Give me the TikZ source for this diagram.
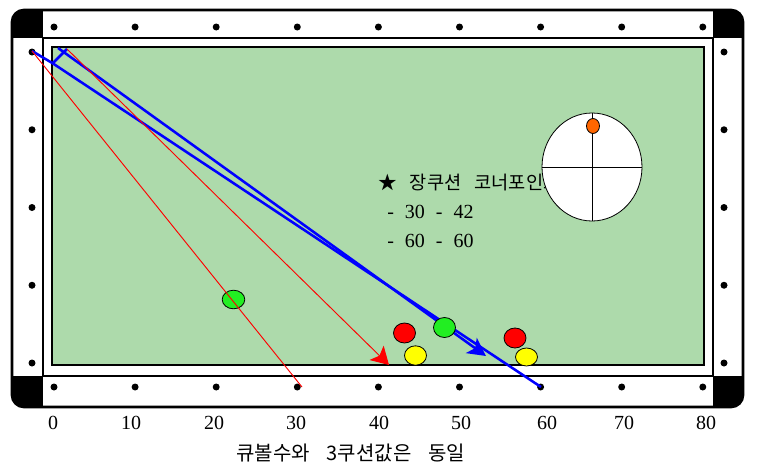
\documentclass[tikz,border=0pt]{standalone}
\usepackage{fontspec}
\setmainfont{Liberation Serif}
\newfontfamily\krfont{Noto Sans CJK KR}
\usetikzlibrary{arrows.meta,shapes.geometric}

\definecolor{felt}{RGB}{173,218,171}
\definecolor{redball}{RGB}{255,0,0}
\definecolor{yellowball}{RGB}{255,255,0}
\definecolor{greenball}{RGB}{34,238,34}
\definecolor{tipdot}{RGB}{255,102,0}

\newcommand{\gap}{\hspace{0.7em}}
\newcommand{\smallgap}{\hspace{0.55em}}
\newcommand{\widegap}{\hspace{0.85em}}

\tikzset{
  railline/.style={line width=1.5pt},
  raildot/.style={fill=black},
  ball/.style={draw=black,line width=0.6pt},
  shotline/.style={blue,line width=1.9pt,line join=round},
  guideline/.style={red,line width=0.7pt},
  krlabel/.style={font=\krfont\fontsize{14pt}{17pt}\selectfont,inner sep=0pt},
  numlabel/.style={font=\fontsize{15pt}{18pt}\selectfont,inner sep=0pt},
}

\begin{document}
\begin{tikzpicture}[x=0.75pt,y=-0.75pt]
\useasboundingbox (0,0) rectangle (761,471);

% table
\draw[line width=2pt,fill=white,rounded corners=9pt] (12,10) rectangle (743,407);
\begin{scope}
\clip[rounded corners=9pt] (12,10) rectangle (743,407);
\fill (12,10) rectangle (43,38);
\fill (713,10) rectangle (743,38);
\fill (12,376) rectangle (43,407);
\fill (713,376) rectangle (743,407);
\end{scope}
\draw[railline] (43,38) rectangle (713,376);
\draw[line width=1.9pt,fill=felt] (52,47) rectangle (704,365);

\foreach \i in {0,...,8} {
  \fill[raildot] ({54+81.1*\i},27) circle (3.5);
  \fill[raildot] ({54+81.1*\i},387) circle (3.5);
}
\foreach \j in {0,...,4} {
  \fill[raildot] (32,{52+77.75*\j}) circle (3.5);
  \fill[raildot] (724,{52+77.75*\j}) circle (3.5);
}

\foreach \v/\px in {0/53,10/131,20/214,30/296,40/379,50/461,60/547,70/624,80/706}
  \node[numlabel] (axis\v) at (\px,423) {\v};

% note
\node[krlabel,anchor=west] (title) at (378,183) {★\gap 장쿠션\gap 코너포인트};
\node[numlabel,anchor=west] (pointA) at (387,212) {-\smallgap 30\smallgap -\smallgap 42};
\node[numlabel,anchor=west] (pointB) at (387,241) {-\smallgap 60\smallgap -\smallgap 60};
\node[krlabel,font=\krfont\fontsize{15pt}{18pt}\selectfont,anchor=west] (remark) at (236,453) {큐볼수와\widegap 3쿠션값은\widegap 동일};

% cue tip
\node[draw,fill=white,ellipse,line width=0.6pt,inner sep=0pt,minimum width=75pt,minimum height=81pt] (spin) at (592,167) {};
\draw[line width=0.6pt] (spin.west) -- (spin.east);
\draw[line width=0.6pt] (spin.north) -- (spin.south);
\draw[ball,fill=tipdot] (593,126) ellipse (6.5 and 7.5);

% paths
\coordinate (cue) at (32,51);
\coordinate (lcush) at (52.7,63.3);
\coordinate (tcush) at (67,49);
\coordinate (bstart) at (58,48);
\coordinate (bend) at (486,356);
\coordinate (d60) at (541,387);
\coordinate (d30) at (302,387);
\coordinate (rend) at (389,365);

\draw[shotline] (cue) -- (lcush) -- (tcush);
\draw[shotline] (lcush) -- (d60);
\draw[shotline,-{Stealth[length=13.5pt,width=14pt,inset=3.5pt]}] (bstart) -- (bend);

\draw[ball,fill=greenball] (233.5,299.5) ellipse (11.3 and 9.3);
\draw[ball,fill=redball] (404.5,333) ellipse (11 and 10);
\draw[ball,fill=yellowball] (415.5,355.5) ellipse (11 and 9.7);
\draw[ball,fill=greenball] (444.5,327.5) ellipse (11 and 10);
\draw[ball,fill=redball] (515,338) ellipse (11 and 10);
\draw[ball,fill=yellowball] (526.5,357) ellipse (11 and 9);

\draw[guideline] (cue) -- (d30);
\draw[guideline,-{Stealth[length=13pt,width=15pt,inset=3pt]}] (tcush) -- (rend);
\end{tikzpicture}
\end{document}
